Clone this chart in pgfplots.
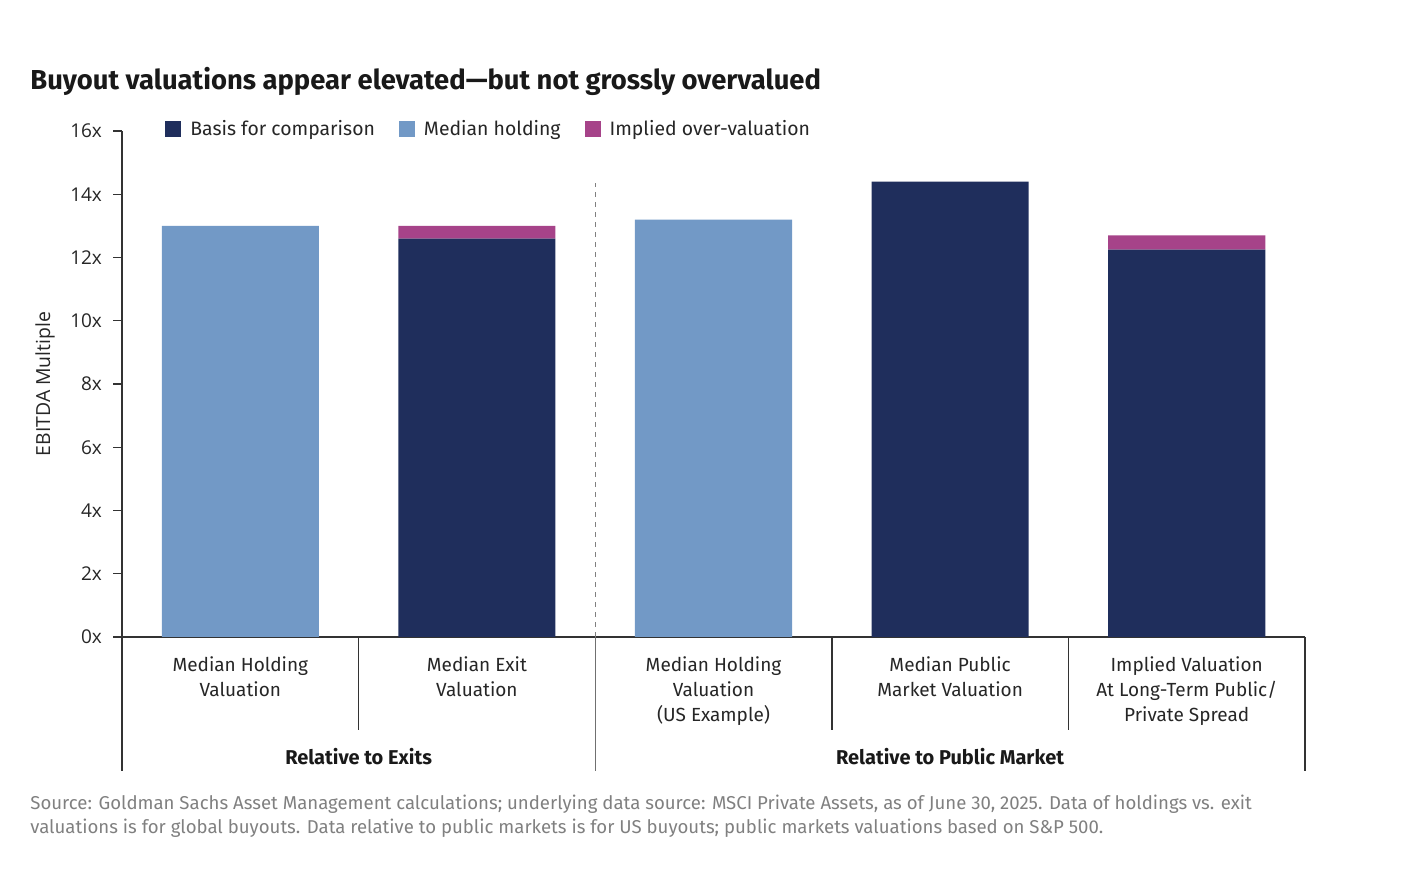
\documentclass[border=0pt]{standalone}
\usepackage{pgfplots}
\pgfplotsset{compat=1.18}
\usepackage{fontspec}
\setmainfont{Fira Sans}
\newfontfamily\tickfont{Open Sans}
\definecolor{navy}{HTML}{1F2E5C}
\definecolor{lblue}{HTML}{7299C6}
\definecolor{pinkc}{HTML}{A64389}
\definecolor{axisc}{HTML}{333333}
\begin{document}
\begin{tikzpicture}
\useasboundingbox (0,0) rectangle (700.5pt,446.5pt);
\node[anchor=base west, inner sep=0pt, font=\fontsize{13.7}{16}\selectfont\bfseries, text=black!90] at (15pt,401.5pt) {Buyout valuations appear elevated---but not grossly overvalued};
\begin{axis}[at={(61pt,128pt)}, anchor=south west, scale only axis, width=591.5pt, height=253pt,
 ybar stacked, bar width=0.664, xmin=-0.5, xmax=4.5, ymin=0, ymax=16,
 axis lines*=left, axis line style={axisc, line width=0.7pt},
 ytick={0,2,...,16}, yticklabels={0x,2x,4x,6x,8x,10x,12x,14x,16x},
 tick align=outside, major tick length=4.5pt, ytick style={axisc, line width=0.7pt},
 yticklabel style={font=\tickfont\fontsize{9.5}{11}\selectfont, text=black!85, xshift=-2pt},
 xtick={0,1,2,3,4}, xtick style={draw=none},
 xticklabels={{Median Holding\\Valuation},{Median Exit\\Valuation},{Median Holding\\Valuation\\(US Example)},{Median Public\\Market Valuation},{Implied Valuation\\At Long-Term Public/\\Private Spread}},
 xticklabel style={align=center, font=\fontsize{9.5}{12.5}\selectfont, text=black!85, anchor=north, inner sep=0pt, yshift=-5pt},
 ylabel={EBITDA Multiple},
 every axis y label/.style={at={(axis description cs:-0.0651,0.5)}, rotate=90, anchor=center, font=\tickfont\fontsize{9.7}{11}\selectfont, text=black!85},
 clip=false,
 legend columns=3,
 legend image code/.code={\fill[#1] (0pt,-4pt) rectangle (8pt,4pt); \path (10.5pt,0pt);},
 legend style={at={(0.0363,1.004)}, anchor=west, draw=none, fill=none, inner sep=0pt,
   font=\fontsize{9.7}{12}\selectfont, text=black!85,
   /tikz/every even column/.append style={column sep=10pt}},
]
\addplot[fill=navy, draw=none] coordinates {(0,0) (1,12.6) (2,0) (3,14.4) (4,12.25)};
\addplot[fill=lblue, draw=none] coordinates {(0,13) (1,0) (2,13.2) (3,0) (4,0)};
\addplot[fill=pinkc, draw=none] coordinates {(0,0) (1,0.4) (2,0) (3,0) (4,0.45)};
\legend{Basis for comparison, Median holding, Implied over-valuation}
\draw[gray, line width=0.6pt, dash pattern=on 2.5pt off 2.5pt] (axis cs:1.5,0) -- (axis cs:1.5,14.36);
\draw[axisc, line width=0.7pt] (axis cs:-0.5,0) -- (axis cs:-0.5,-4.24);
\draw[axisc, line width=0.7pt] (axis cs:0.5,0) -- (axis cs:0.5,-2.94);
\draw[axisc!70, line width=0.7pt] (axis cs:1.5,0) -- (axis cs:1.5,-4.24);
\draw[axisc, line width=0.7pt] (axis cs:2.5,0) -- (axis cs:2.5,-2.94);
\draw[axisc, line width=0.7pt] (axis cs:3.5,0) -- (axis cs:3.5,-2.94);
\draw[axisc, line width=0.7pt] (axis cs:4.5,0) -- (axis cs:4.5,-4.24);
\node[font=\fontsize{10}{12}\selectfont\bfseries, text=black!90] at (axis cs:0.5,-3.79) {Relative to Exits};
\node[font=\fontsize{10}{12}\selectfont\bfseries, text=black!90] at (axis cs:3,-3.79) {Relative to Public Market};
\end{axis}
\node[anchor=base west, inner sep=0pt, font=\fontsize{9.3}{11}\selectfont, text=black!50] at (15pt,41.5pt) {Source: Goldman Sachs Asset Management calculations; underlying data source: MSCI Private Assets, as of June 30, 2025. Data of holdings vs. exit};
\node[anchor=base west, inner sep=0pt, font=\fontsize{9.3}{11}\selectfont, text=black!50] at (15pt,29.5pt) {valuations is for global buyouts. Data relative to public markets is for US buyouts; public markets valuations based on S\&P 500.};
\end{tikzpicture}
\end{document}
